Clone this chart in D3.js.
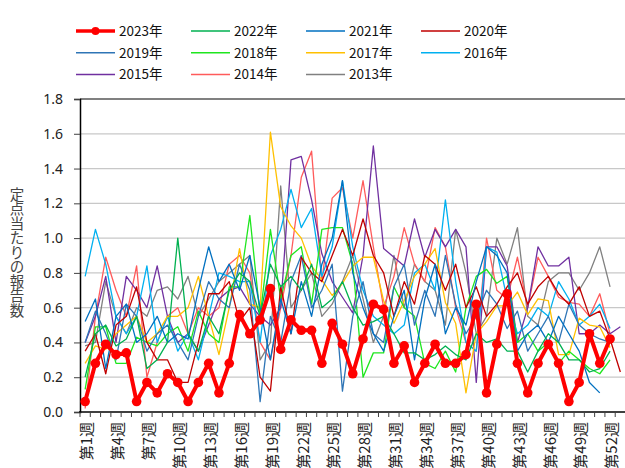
<!DOCTYPE html>
<html><head><meta charset="utf-8">
<script src="https://cdn.jsdelivr.net/npm/d3@7/dist/d3.min.js"></script>
<style>body{margin:0;background:#fff;}svg{display:block;}</style>
</head><body>
<script>
const weeks = d3.range(1, 54).map(i => "第" + i + "週");
const tickLabels = weeks.filter((w, i) => i % 3 === 0);
const yTicks = [0, 0.2, 0.4, 0.6, 0.8, 1.0, 1.2, 1.4, 1.6, 1.8];
const yTitle = "定点当たりの報告数";
const seriesNames = ["2023年","2022年","2021年","2020年","2019年","2018年","2017年","2016年","2015年","2014年","2013年"];
const seriesColors = ["#FF0000","#00B050","#0070C0","#C00000","#2E75B6","#1EE61E","#FFC000","#00B0F0","#7030A0","#FF5B5B","#808080"];

const s2023 = [0.06,0.28,0.39,0.33,0.34,0.06,0.17,0.11,0.22,0.17,0.06,0.17,0.28,0.11,0.28,0.56,0.45,0.53,0.71,0.36,0.53,0.47,0.47,0.28,0.51,0.39,0.22,0.42,0.62,0.59,0.28,0.38,0.17,0.28,0.39,0.28,0.28,0.33,0.62,0.11,0.39,0.68,0.28,0.11,0.28,0.39,0.28,0.06,0.17,0.45,0.28,0.42];
const s2022 = [0.20,0.45,0.50,0.38,0.42,0.55,0.25,0.30,0.40,1.00,0.45,0.35,0.55,0.45,0.70,0.80,0.75,0.55,0.85,0.72,0.78,0.70,0.85,0.60,0.65,0.75,0.60,0.50,0.52,0.55,0.45,0.34,0.34,0.30,0.33,0.38,0.33,0.30,0.45,0.40,0.42,0.35,0.35,0.23,0.35,0.45,0.40,0.30,0.30,0.23,0.25,0.35];
const s2021 = [0.52,0.65,0.25,0.55,0.62,0.40,0.45,0.55,0.40,0.45,0.42,0.70,0.95,0.75,0.85,0.70,0.90,0.60,0.30,0.65,0.45,0.75,0.55,0.85,1.00,1.33,0.80,0.60,0.45,0.35,0.55,0.70,0.30,0.65,0.85,0.45,0.60,0.50,0.75,0.95,0.90,0.80,0.35,0.45,0.50,0.40,0.55,0.45,0.35,0.17,0.11];
const s2020 = [0.35,0.45,0.22,0.50,0.55,0.72,0.40,0.30,0.30,0.17,0.17,0.40,0.68,0.68,0.75,0.52,0.60,0.20,0.12,0.72,0.45,0.89,0.80,0.75,0.90,1.05,0.90,1.11,0.90,0.80,0.55,0.75,0.62,0.90,0.85,0.70,0.85,0.60,0.72,0.55,0.62,0.72,0.80,0.62,0.72,0.78,0.68,0.62,0.72,0.55,0.58,0.42,0.23];
const s2019 = [0.40,0.58,0.45,0.30,0.62,0.55,0.35,0.45,0.50,0.40,0.30,0.55,0.75,0.65,0.60,0.85,0.70,0.06,0.55,0.40,0.75,0.90,0.60,0.70,0.85,0.12,0.55,0.75,0.45,0.40,0.72,0.85,0.50,0.70,0.55,0.90,0.62,0.45,0.55,0.70,0.62,0.48,0.58,0.35,0.45,0.55,0.40,0.62,0.50,0.45,0.42,0.40];
const s2018 = [0.13,0.49,0.49,0.28,0.28,0.43,0.40,0.38,0.45,0.49,0.35,0.58,0.45,0.40,0.72,0.72,1.13,0.55,1.05,0.65,0.90,0.95,0.62,1.05,1.06,1.06,0.85,0.20,0.34,0.34,0.72,0.60,0.55,0.28,0.25,0.35,0.23,0.60,0.78,0.82,0.74,0.78,0.40,0.45,0.35,0.40,0.28,0.35,0.30,0.25,0.22,0.30];
const s2017 = [0.28,0.38,0.36,0.45,0.50,0.55,0.40,0.45,0.55,0.55,0.60,0.78,0.55,0.33,0.60,0.94,0.62,0.60,1.61,1.18,1.07,1.00,0.84,0.76,0.67,0.74,0.84,0.89,0.89,0.64,0.51,0.64,0.78,0.85,0.94,0.63,0.51,0.11,0.45,0.52,0.61,0.61,0.69,0.56,0.65,0.64,0.33,0.33,0.54,0.50,0.49,0.37];
const s2016 = [0.78,1.05,0.85,0.55,0.45,0.55,0.84,0.40,0.55,0.35,0.45,0.30,0.55,0.80,0.78,0.75,0.75,0.40,0.90,1.05,1.28,1.06,1.17,0.78,0.95,1.33,0.95,0.70,0.55,0.50,0.45,0.50,0.80,0.85,0.70,1.22,0.75,0.40,0.35,0.95,0.92,0.65,0.45,0.50,0.60,0.55,0.75,0.65,0.50,0.55,0.62,0.48];
const s2015 = [0.40,0.55,0.78,0.40,0.78,0.70,0.60,0.84,0.55,0.40,0.45,0.35,0.50,0.65,0.70,0.72,0.62,0.55,0.50,0.60,1.45,1.47,1.22,0.91,0.75,0.66,0.57,0.90,1.53,0.94,0.89,0.84,1.11,0.89,1.05,0.95,1.05,0.95,0.17,0.95,0.95,0.84,0.40,0.60,0.95,0.84,0.84,0.89,0.45,0.45,0.50,0.45,0.49];
const s2014 = [0.02,0.55,0.89,0.70,0.55,0.84,0.20,0.40,0.55,0.60,0.45,0.60,0.55,0.60,0.85,0.90,0.80,0.40,0.30,0.60,0.90,1.35,1.50,0.75,1.23,1.29,1.00,1.33,0.95,0.60,0.78,1.06,0.85,0.75,1.06,0.95,0.60,0.40,0.35,1.00,0.70,0.65,0.89,0.60,0.89,0.78,0.66,0.63,0.62,0.55,0.68,0.45];
const s2013 = [0.38,0.40,0.75,0.55,0.45,0.60,0.55,0.70,0.72,0.65,0.78,0.55,0.65,0.75,0.80,0.85,0.90,0.30,0.40,1.30,0.60,0.70,0.80,0.55,0.62,0.75,0.90,0.65,0.40,0.55,0.90,0.60,0.85,0.75,0.70,0.50,1.05,0.80,0.45,0.55,1.00,0.85,1.06,0.55,0.50,0.75,0.80,0.80,0.70,0.80,0.95,0.72];

const allSeries = [s2023,s2022,s2021,s2020,s2019,s2018,s2017,s2016,s2015,s2014,s2013];

const W = 625, H = 468;
const svg = d3.select("body").append("svg").attr("width", W).attr("height", H)
  .style("font-family", "'Noto Sans CJK JP','Noto Sans',sans-serif");

const x = d3.scaleBand().domain(weeks).range([80, 625.5]).padding(0);
const y = d3.scaleLinear().domain([0, 1.8]).range([412, 99]);

// gridlines
svg.append("g").selectAll("line").data(yTicks.filter(d => d > 0)).join("line")
  .attr("x1", 80).attr("x2", W).attr("y1", d => y(d)).attr("y2", d => y(d))
  .attr("stroke", d => d === 1.8 ? "#808080" : "#C8C8C8")
  .attr("stroke-width", d => d === 1.8 ? 2 : 1.2);

// y axis
const yAxis = svg.append("g").attr("transform", "translate(80,0)")
  .call(d3.axisLeft(y).tickValues(yTicks).tickFormat(d3.format(".1f")).tickSize(6).tickPadding(11));
yAxis.select(".domain").attr("stroke", "#000").attr("stroke-width", 1.5);
yAxis.selectAll(".tick line").attr("stroke", "#404040");
yAxis.selectAll(".tick text").attr("font-size", 14).attr("fill", "#222")
  .style("font-family", "'Noto Sans',sans-serif");

// series lines (2013 first so 2023 on top)
const line = d3.line().defined(d => d != null)
  .x((d, i) => x(weeks[i]) + x.bandwidth() / 2).y(d => y(d));
const order = d3.range(allSeries.length).reverse();
order.forEach(k => {
  if (k === 0) return;
  svg.append("path").datum(allSeries[k]).attr("fill", "none")
    .attr("stroke", seriesColors[k]).attr("stroke-width", 1.3)
    .attr("stroke-linejoin", "round").attr("d", line);
});
svg.append("path").datum(s2023).attr("fill", "none")
  .attr("stroke", seriesColors[0]).attr("stroke-width", 4)
  .attr("stroke-linejoin", "round").attr("d", line);
svg.append("g").selectAll("circle").data(s2023).join("circle")
  .attr("cx", (d, i) => x(weeks[i]) + x.bandwidth() / 2).attr("cy", d => y(d))
  .attr("r", 4.8).attr("fill", seriesColors[0]);

// x axis
const xAxisG = svg.append("g").attr("transform", "translate(0,412)");
xAxisG.append("line").attr("x1", 79).attr("x2", W).attr("stroke", "#000").attr("stroke-width", 1.5);
const bounds = weeks.map(w => x(w)).concat([x(weeks[weeks.length - 1]) + x.bandwidth()]);
xAxisG.selectAll("line.tk").data(bounds).join("line").attr("class", "tk")
  .attr("x1", d => d).attr("x2", d => d).attr("y1", 0).attr("y2", 5)
  .attr("stroke", "#404040").attr("stroke-width", 1);
xAxisG.selectAll("text").data(tickLabels).join("text")
  .attr("transform", d => `translate(${x(d) + x.bandwidth() / 2 + 2},${10}) rotate(-90)`)
  .attr("text-anchor", "end").attr("dy", "0.35em")
  .attr("font-size", 15).attr("fill", "#222").text(d => d);

// y title: one text element rotated 90deg with each glyph turned back upright
const fsT = 14.5;
svg.append("text")
  .attr("transform", `translate(${17 - fsT / 2},${252 + 0.88 * fsT}) rotate(90)`)
  .attr("rotate", -90)
  .attr("text-anchor", "middle")
  .attr("font-size", fsT).attr("fill", "#444")
  .text(yTitle);

// legend
const leg = svg.append("g");
seriesNames.forEach((name, i) => {
  const col = i % 4, row = Math.floor(i / 4);
  const lx = 76 + col * 115, ly = 31 + row * 21.7;
  const g = leg.append("g").attr("transform", `translate(${lx},${ly})`);
  g.append("line").attr("x1", 0).attr("x2", 39).attr("y1", 0).attr("y2", 0)
    .attr("stroke", seriesColors[i]).attr("stroke-width", i === 0 ? 3.5 : 1.5);
  if (i === 0) g.append("circle").attr("cx", 19.5).attr("cy", 0).attr("r", 4).attr("fill", seriesColors[0]);
  g.append("text").attr("x", 43).attr("y", 0).attr("dy", "0.36em")
    .attr("font-size", 13.5).attr("fill", "#111").text(name);
});
</script>
</body></html>
